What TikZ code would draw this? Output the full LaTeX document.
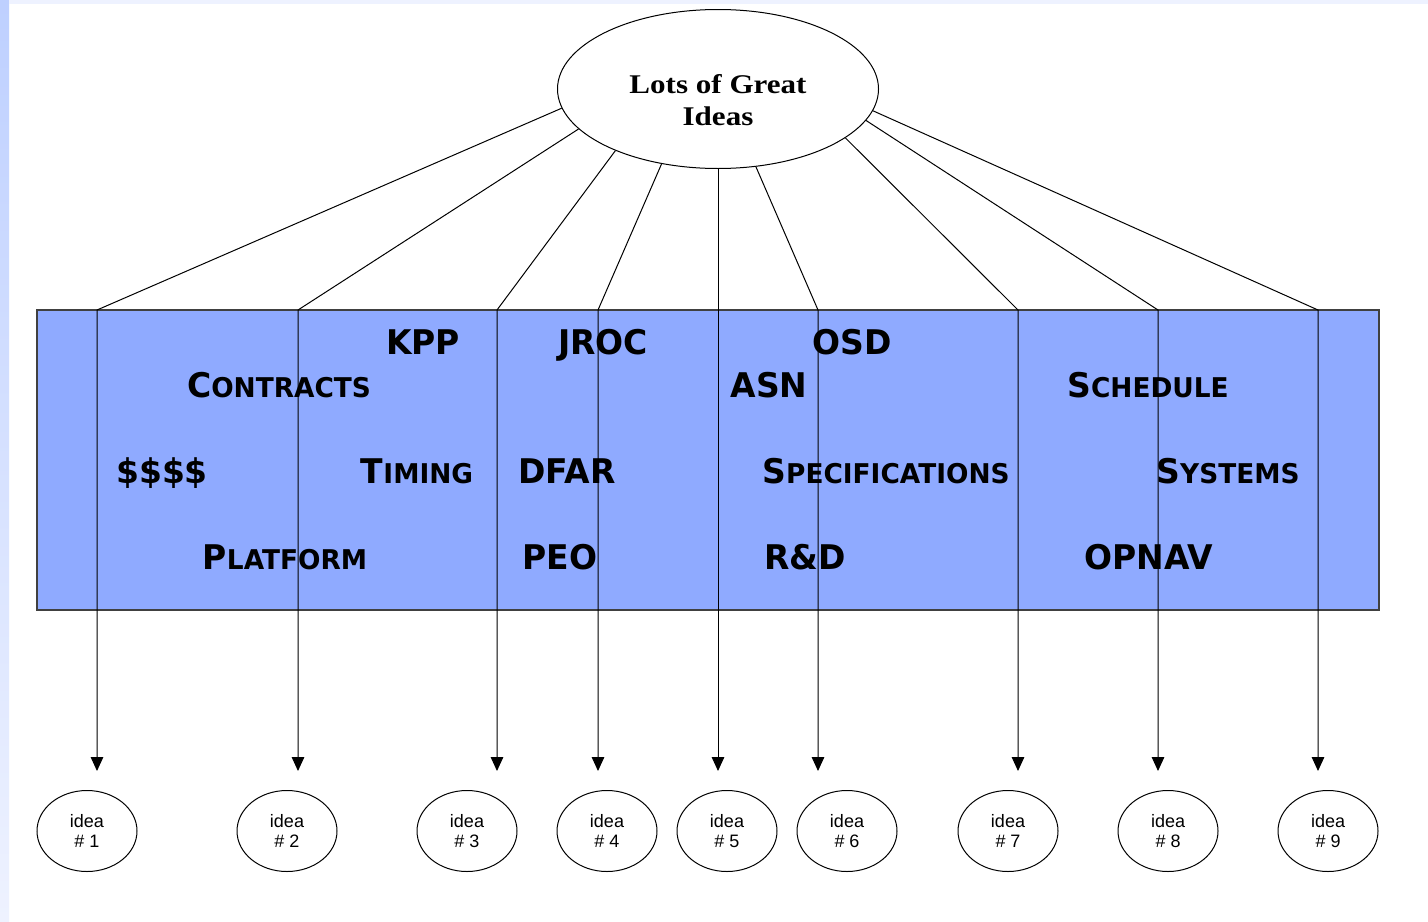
\documentclass[tikz,border=0pt]{standalone}
\usepackage{fontspec}
\usetikzlibrary{positioning,calc,arrows,arrows.meta,shapes.geometric}
\newfontfamily\titlefont[FakeStretch=1.15]{Liberation Serif}
\newfontfamily\labelfont[FakeStretch=0.97]{DejaVu Sans}
\newfontfamily\ideafont{Liberation Sans}
\definecolor{bandblue}{RGB}{143,170,255}
\definecolor{slideblue}{RGB}{190,208,255}
\definecolor{slidepale}{RGB}{238,242,255}
\newcommand{\scap}[2]{#1{\fontsize{13.6}{16}\selectfont #2}}
\tikzset{font=\small,
	idea/.style={ellipse, draw, line width=0.5pt, inner sep=0pt, minimum width=50pt, minimum height=40.5pt, align=center, font=\ideafont\fontsize{9}{10}\selectfont},
	word/.style={inner sep=0pt, anchor=base, font=\labelfont\bfseries\fontsize{17}{20}\selectfont},
	link/.style={line width=0.5pt, -{Triangle[width=6.3pt,length=7pt]}}}

\begin{document}
\begin{tikzpicture}[x=0.5pt, y=-0.5pt]
	\useasboundingbox (0,0) rectangle (1428,921);
	% slide background
	\fill[white] (0,0) rectangle (1428,921);
	\shade[top color=slideblue, bottom color=slidepale] (0,0) rectangle (9,921);
	\fill[slidepale] (9,0) rectangle (1428,4);

	% the band of obstacles
	\node[draw=black!75, line width=0.8pt, fill=bandblue, inner sep=0pt, minimum width=671pt, minimum height=150pt] (band) at (708,460) {};

	\node[ellipse, draw, line width=0.5pt, inner sep=0pt, minimum width=160.5pt, minimum height=79.5pt] (top) at (718,89) {};
	\node[align=center, inner sep=0pt, font=\titlefont\bfseries\fontsize{13.5}{16}\selectfont] (toptext) at (718,100) {Lots of Great\\Ideas};

	\begin{scope}
		\tikzstyle{every node}=[word]
		\node (kpp) at (423,354) {KPP};
		\node (jroc) at (603,354) {JROC};
		\node (osd) at (852,354) {OSD};
		\node (contracts) at (279,397) {\scap{C}{ONTRACTS}};
		\node (asn) at (769,397) {ASN};
		\node (schedule) at (1148,397) {\scap{S}{CHEDULE}};
		\node (money) at (162,483) {\$\$\$\$};
		\node (timing) at (417,483) {\scap{T}{IMING}};
		\node (dfar) at (567,483) {DFAR};
		\node (specs) at (886,483) {\scap{S}{PECIFICATIONS}};
		\node (systems) at (1228,483) {\scap{S}{YSTEMS}};
		\node (platform) at (285,569) {\scap{P}{LATFORM}};
		\node (peo) at (560,569) {PEO};
		\node (rnd) at (805,569) {R\&D};
		\node (opnav) at (1149,569) {OPNAV};
	\end{scope}

	\coordinate (t1) at (97,310);   \coordinate (b1) at (97,771);
	\coordinate (t2) at (298,310);  \coordinate (b2) at (298,771);
	\coordinate (t3) at (497,310);  \coordinate (b3) at (497,771);
	\coordinate (t4) at (598,310);  \coordinate (b4) at (598,771);
	\coordinate (t5) at (718,310);  \coordinate (b5) at (718,771);
	\coordinate (t6) at (818,310);  \coordinate (b6) at (818,771);
	\coordinate (t7) at (1018,310); \coordinate (b7) at (1018,771);
	\coordinate (t8) at (1158,310); \coordinate (b8) at (1158,771);
	\coordinate (t9) at (1318,310); \coordinate (b9) at (1318,771);

	\draw[link] (top.187.5) -- (t1) -- (b1);
	\draw[link] (top.196.3) -- (t2) -- (b2);
	\draw[link] (top.211.5) -- (t3) -- (b3);
	\draw[link] (top.233.6) -- (t4) -- (b4);
	\draw[link] (top.270) -- (t5) -- (b5);
	\draw[link] (top.296.9) -- (t6) -- (b6);
	\draw[link] (top.339.1) -- (t7) -- (b7);
	\draw[link] (top.348.3) -- (t8) -- (b8);
	\draw[link] (top.352.5) -- (t9) -- (b9);

	\node[idea] (i1) at (87,831) {idea\\\# 1};
	\node[idea] (i2) at (287,831) {idea\\\# 2};
	\node[idea] (i3) at (467,831) {idea\\\# 3};
	\node[idea] (i4) at (607,831) {idea\\\# 4};
	\node[idea] (i5) at (727,831) {idea\\\# 5};
	\node[idea] (i6) at (847,831) {idea\\\# 6};
	\node[idea] (i7) at (1008,831) {idea\\\# 7};
	\node[idea] (i8) at (1168,831) {idea\\\# 8};
	\node[idea] (i9) at (1328,831) {idea\\\# 9};
\end{tikzpicture}
\end{document}
